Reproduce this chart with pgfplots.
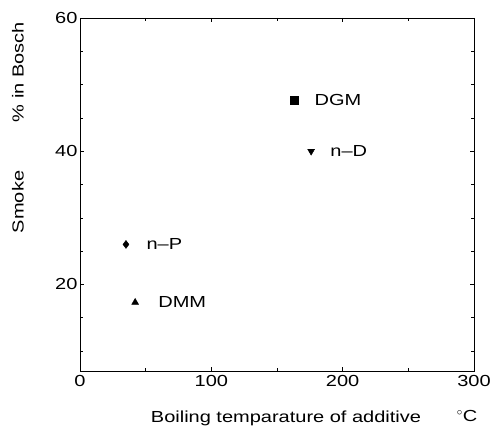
\documentclass[border=0pt]{standalone}
\usepackage{fontspec}
\setmainfont{Liberation Sans}[FakeStretch=1.25]
\usepackage{pgfplots}
\pgfplotsset{compat=1.18}
\newcommand{\lf}{\fontsize{16}{18}\selectfont}
\begin{document}
\begin{tikzpicture}
\useasboundingbox (-80pt,-62pt) rectangle (412pt,371pt);
\begin{axis}[
  at={(0,0)}, anchor=south west,
  scale only axis, width=394pt, height=353pt,
  xmin=0, xmax=300, ymin=7, ymax=60,
  xtick={0,100,200,300}, ytick={20,40,60},
  minor xtick={50,150,250}, minor ytick={10,15,25,30,35,45,50,55},
  tick align=inside, major tick length=4pt, minor tick length=3pt,
  xtick pos=both, ytick pos=both,
  tick style={black, line width=0.6pt},
  axis line style={line width=0.9pt},
  /pgf/number format/assume math mode=true,
  tick label style={font=\lf},
  xticklabel style={yshift=-1pt},
  yticklabel style={xshift=1pt},
  clip=false,
]
\addplot[only marks, mark=square*, mark size=4pt, black] coordinates {(163,47.7)};
\addplot[only marks, mark=triangle*, mark size=4pt, black, mark options={rotate=180}] coordinates {(176,40)};
\addplot[only marks, mark=diamond*, mark size=4pt, black] coordinates {(35,26)};
\addplot[only marks, mark=triangle*, mark size=4pt, black] coordinates {(42,17.3)};
\node[anchor=west, font=\lf] at (axis cs:176,47.7) {DGM};
\node[anchor=west, font=\lf] at (axis cs:188,40) {n--D};
\node[anchor=west, font=\lf] at (axis cs:48,26) {n--P};
\node[anchor=west, font=\lf] at (axis cs:57,17.3) {DMM};
\end{axis}
\node[rotate=90, font=\lf] at (-62pt,169pt) {Smoke};
\node[rotate=90, font=\lf] at (-62pt,299pt) {\% in Bosch};
\node[font=\lf] at (206pt,-47pt) {Boiling temparature of additive};
\node[font=\lf] at (387pt,-45pt) {$^\circ$C};
\end{tikzpicture}
\end{document}
